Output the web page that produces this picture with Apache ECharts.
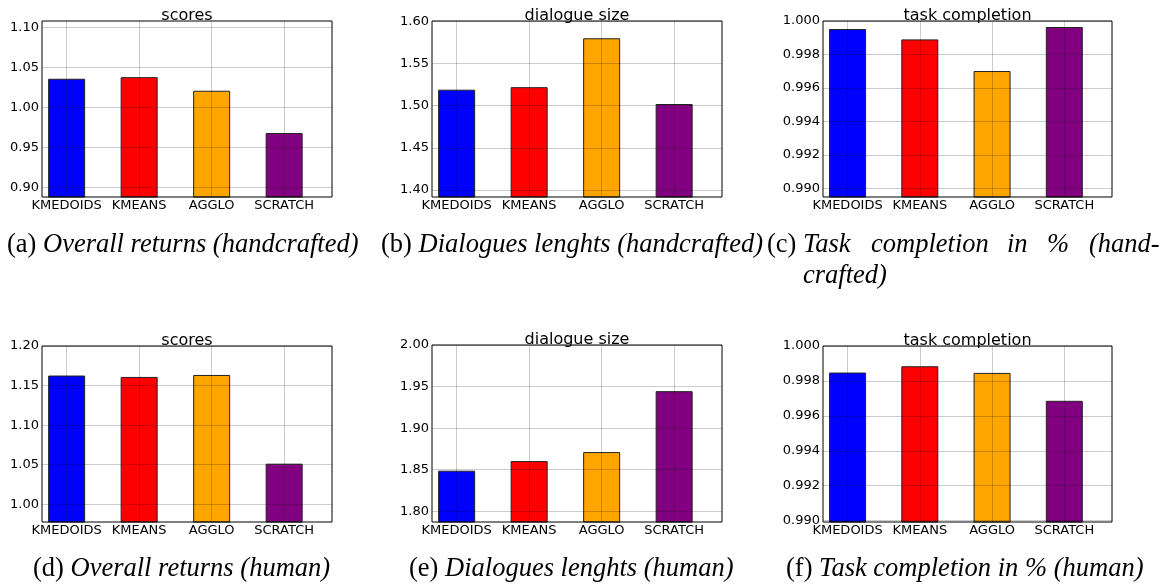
<!DOCTYPE html>
<html>
<head>
<meta charset="utf-8">
<script src="https://cdn.jsdelivr.net/npm/echarts@6/dist/echarts.min.js"></script>
<style>html,body{margin:0;padding:0;background:#fff}#c{width:1171px;height:586px}</style>
</head>
<body>
<div id="c"></div>
<script>
// ---- data ----
const categories = ['KMEDOIDS', 'KMEANS', 'AGGLO', 'SCRATCH'];
const scoresHandcrafted   = [1.036, 1.038, 1.021, 0.968];
const dialogueHandcrafted = [1.519, 1.522, 1.580, 1.502];
const taskHandcrafted     = [0.99952, 0.99890, 0.99701, 0.99964];
const scoresHuman         = [1.1627, 1.1609, 1.1634, 1.0513];
const dialogueHuman       = [1.8488, 1.8604, 1.8712, 1.9445];
const taskHuman           = [0.99848, 0.99884, 0.99846, 0.99686];

const ticksScoresHandcrafted   = ['0.90', '0.95', '1.00', '1.05', '1.10'];
const ticksDialogueHandcrafted = ['1.40', '1.45', '1.50', '1.55', '1.60'];
const ticksTask                = ['0.990', '0.992', '0.994', '0.996', '0.998', '1.000'];
const ticksScoresHuman         = ['1.00', '1.05', '1.10', '1.15', '1.20'];
const ticksDialogueHuman       = ['1.80', '1.85', '1.90', '1.95', '2.00'];

const panelTitles = ['scores', 'dialogue size', 'task completion', 'scores', 'dialogue size', 'task completion'];

// ---- styles / layout ----
const barColors = ['#0000ff', '#ff0000', '#ffa500', '#800080'];
const panels = [
  {values: scoresHandcrafted,   ticks: ticksScoresHandcrafted,   min: 0.8878, max: 1.1084, left: 42,  top: 21,  width: 290, height: 176},
  {values: dialogueHandcrafted, ticks: ticksDialogueHandcrafted, min: 1.3917, max: 1.6005, left: 432, top: 21,  width: 290, height: 176},
  {values: taskHandcrafted,     ticks: ticksTask,                min: 0.98948, max: 1.0000, left: 823, top: 21,  width: 289, height: 176},
  {values: scoresHuman,         ticks: ticksScoresHuman,         min: 0.9776, max: 1.2000, left: 42,  top: 346, width: 290, height: 176},
  {values: dialogueHuman,       ticks: ticksDialogueHuman,       min: 1.7871, max: 2.0000, left: 432, top: 345, width: 290, height: 177},
  {values: taskHuman,           ticks: ticksTask,                min: 0.98992, max: 1.0000, left: 823, top: 346, width: 289, height: 176}
];
const FONT = 'DejaVu Sans';
const gridLine = {show: true, lineStyle: {color: 'rgba(0,0,0,0.2)', width: 1, type: 'solid'}};

const grid = [], xAxis = [], yAxis = [], series = [], graphic = [];
panels.forEach((p, k) => {
  grid.push({left: p.left, top: p.top, width: p.width, height: p.height, show: true,
    borderColor: '#000', borderWidth: 1, backgroundColor: 'transparent', z: 4});
  xAxis.push({type: 'value', gridIndex: k, min: -0.34, max: 3.66, z: 3,
    axisLine: {show: false}, axisTick: {show: false, customValues: [0, 1, 2, 3]},
    splitLine: gridLine,
    axisLabel: {customValues: [0, 1, 2, 3], formatter: v => categories[Math.round(v)] || '',
      color: '#000', fontFamily: FONT, fontSize: 13, margin: 2, showMinLabel: true, showMaxLabel: true}});
  const tv = p.ticks.map(parseFloat);
  yAxis.push({type: 'value', gridIndex: k, min: p.min, max: p.max, z: 3,
    axisLine: {show: false}, axisTick: {show: false, customValues: tv},
    splitLine: gridLine,
    axisLabel: {customValues: tv, formatter: v => { const i = tv.findIndex(t => Math.abs(t - v) < 1e-9); return i >= 0 ? p.ticks[i] : ''; },
      color: '#000', fontFamily: FONT, fontSize: 13, margin: 3, showMinLabel: true, showMaxLabel: true}});
  series.push({type: 'bar', xAxisIndex: k, yAxisIndex: k, barWidth: 37, z: 2, animation: false,
    data: p.values.map((v, i) => ({value: [i, v], itemStyle: {color: barColors[i], borderColor: '#222', borderWidth: 1}}))});
  graphic.push({type: 'text', x: p.left + p.width / 2, y: p.top + 3, z: 10,
    style: {text: panelTitles[k], font: '16px "' + FONT + '"', fill: '#000', align: 'center', verticalAlign: 'bottom'}});
});

// ---- captions ----
const CAP = 26.5;
function cap(x, y, label, text) {
  graphic.push({type: 'text', x: x, y: y, z: 10, style: {
    text: (label ? '{n|' + label + '}' + (text ? ' ' : '') : '') + (text ? '{i|' + text + '}' : ''),
    font: CAP + 'px "Liberation Serif"', fill: '#000', verticalAlign: 'middle',
    rich: {n: {font: CAP + 'px "Liberation Serif"', fill: '#000'}, i: {font: 'italic ' + CAP + 'px "Liberation Serif"', fill: '#000'}}}});
}
cap(7, 245, '(a)', 'Overall returns (handcrafted)');
cap(381, 245, '(b)', 'Dialogues lenghts (handcrafted)');
cap(767, 245, '(c)', '');
cap(803, 245, '', 'Task');
cap(871, 245, '', 'completion');
cap(1007, 245, '', 'in');
cap(1047, 245, '', '%');
cap(1089, 245, '', '(hand-');
cap(803, 276, '', 'crafted)');
cap(33, 569, '(d)', 'Overall returns (human)');
cap(409, 569, '(e)', 'Dialogues lenghts (human)');
cap(786, 569, '(f)', 'Task completion in % (human)');

const chart = echarts.init(document.getElementById('c'), null, {renderer: 'canvas'});
chart.setOption({animation: false, grid, xAxis, yAxis, series, graphic});
</script>
</body>
</html>
